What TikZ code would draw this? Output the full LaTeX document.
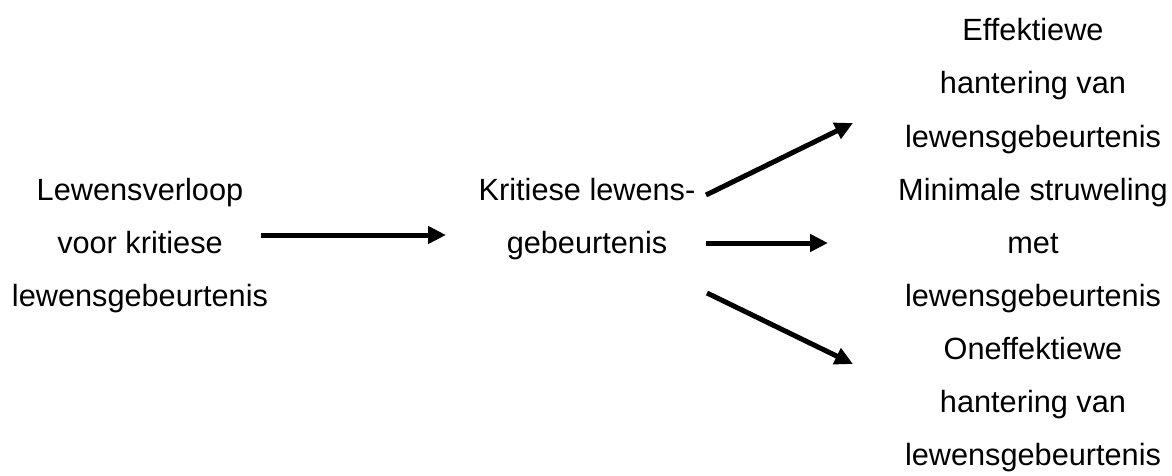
\documentclass[tikz,border=0pt]{standalone}
\usepackage{fontspec}
\setmainfont{Liberation Sans}
\usetikzlibrary{arrows.meta}
\begin{document}
\begin{tikzpicture}[x=1pt,y=-1pt,
  txt/.style={anchor=base,inner sep=0pt,font=\fontsize{30.7}{36}\selectfont},
  flow/.style={line width=5pt,-{Triangle[length=18pt,width=17pt]}}]
\useasboundingbox (0,0) rectangle (1172,476);

% left block
\node[txt] (l1) at (140,200) {Lewensverloop};
\node[txt] (l2) at (140,253) {voor kritiese};
\node[txt] (l3) at (140,306) {lewensgebeurtenis};

% centre block
\node[txt] (c1) at (587,200) {Kritiese lewens-};
\node[txt] (c2) at (587,253) {gebeurtenis};

% right block: three outcomes
\node[txt] (r1) at (1033,41) {Effektiewe};
\node[txt] (r2) at (1033,94) {hantering van};
\node[txt] (r3) at (1033,147) {lewensgebeurtenis};
\node[txt] (r4) at (1033,200) {Minimale struweling};
\node[txt] (r5) at (1033,253) {met};
\node[txt] (r6) at (1033,306) {lewensgebeurtenis};
\node[txt] (r7) at (1033,359) {Oneffektiewe};
\node[txt] (r8) at (1033,412) {hantering van};
\node[txt] (r9) at (1033,465) {lewensgebeurtenis};

% arrow end points
\coordinate (a0) at (261,235);
\coordinate (a1) at (446,235);
\coordinate (b0) at (706,195);
\coordinate (b1) at (853,123);
\coordinate (m0) at (706,243);
\coordinate (m1) at (828,243);
\coordinate (d0) at (707,293);
\coordinate (d1) at (853,364);

\draw[flow] (a0) -- (a1);
\draw[flow] (b0) -- (b1);
\draw[flow] (m0) -- (m1);
\draw[flow] (d0) -- (d1);
\end{tikzpicture}
\end{document}
